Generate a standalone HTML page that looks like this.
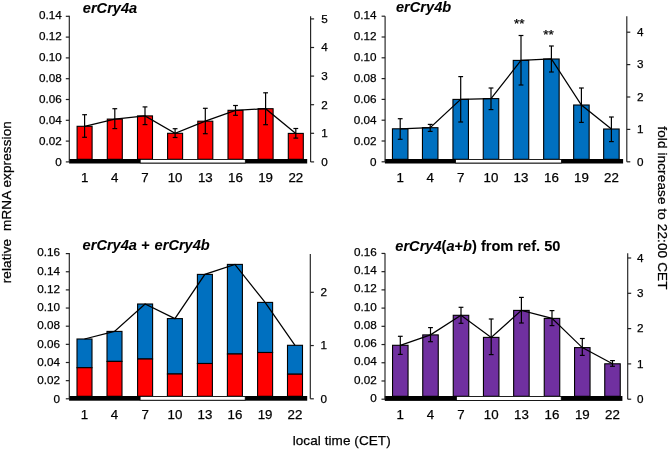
<!DOCTYPE html>
<html><head><meta charset="utf-8"><style>
html,body{margin:0;padding:0;background:#fff;width:668px;height:450px;overflow:hidden}
svg{display:block;will-change:transform}
text{font-family:"Liberation Sans", sans-serif;fill:#000;white-space:pre;stroke:#000;stroke-width:0.25px}
text[font-weight=bold]{stroke-width:0.08px}
</style></head><body>
<svg width="668" height="450" viewBox="0 0 668 450">
<rect width="668" height="450" fill="#fff"/>
<rect x="77.10" y="126.30" width="15" height="33.00" fill="#ff0000" stroke="#000" stroke-width="1.1"/>
<rect x="107.30" y="119.10" width="15" height="40.20" fill="#ff0000" stroke="#000" stroke-width="1.1"/>
<rect x="137.50" y="115.90" width="15" height="43.40" fill="#ff0000" stroke="#000" stroke-width="1.1"/>
<rect x="167.60" y="133.30" width="15" height="26.00" fill="#ff0000" stroke="#000" stroke-width="1.1"/>
<rect x="197.80" y="121.20" width="15" height="38.10" fill="#ff0000" stroke="#000" stroke-width="1.1"/>
<rect x="228.00" y="110.30" width="15" height="49.00" fill="#ff0000" stroke="#000" stroke-width="1.1"/>
<rect x="258.10" y="108.70" width="15" height="50.60" fill="#ff0000" stroke="#000" stroke-width="1.1"/>
<rect x="288.30" y="133.40" width="15" height="25.90" fill="#ff0000" stroke="#000" stroke-width="1.1"/>
<line x1="84.60" y1="114.70" x2="84.60" y2="137.30" stroke="#000" stroke-width="1.2"/>
<line x1="82.20" y1="114.70" x2="87.00" y2="114.70" stroke="#000" stroke-width="1.2"/>
<line x1="82.20" y1="137.30" x2="87.00" y2="137.30" stroke="#000" stroke-width="1.2"/>
<line x1="114.80" y1="108.70" x2="114.80" y2="128.60" stroke="#000" stroke-width="1.2"/>
<line x1="112.40" y1="108.70" x2="117.20" y2="108.70" stroke="#000" stroke-width="1.2"/>
<line x1="112.40" y1="128.60" x2="117.20" y2="128.60" stroke="#000" stroke-width="1.2"/>
<line x1="145.00" y1="106.90" x2="145.00" y2="124.60" stroke="#000" stroke-width="1.2"/>
<line x1="142.60" y1="106.90" x2="147.40" y2="106.90" stroke="#000" stroke-width="1.2"/>
<line x1="142.60" y1="124.60" x2="147.40" y2="124.60" stroke="#000" stroke-width="1.2"/>
<line x1="175.10" y1="128.70" x2="175.10" y2="137.50" stroke="#000" stroke-width="1.2"/>
<line x1="172.70" y1="128.70" x2="177.50" y2="128.70" stroke="#000" stroke-width="1.2"/>
<line x1="172.70" y1="137.50" x2="177.50" y2="137.50" stroke="#000" stroke-width="1.2"/>
<line x1="205.30" y1="108.30" x2="205.30" y2="133.70" stroke="#000" stroke-width="1.2"/>
<line x1="202.90" y1="108.30" x2="207.70" y2="108.30" stroke="#000" stroke-width="1.2"/>
<line x1="202.90" y1="133.70" x2="207.70" y2="133.70" stroke="#000" stroke-width="1.2"/>
<line x1="235.50" y1="105.50" x2="235.50" y2="115.30" stroke="#000" stroke-width="1.2"/>
<line x1="233.10" y1="105.50" x2="237.90" y2="105.50" stroke="#000" stroke-width="1.2"/>
<line x1="233.10" y1="115.30" x2="237.90" y2="115.30" stroke="#000" stroke-width="1.2"/>
<line x1="265.60" y1="92.80" x2="265.60" y2="124.70" stroke="#000" stroke-width="1.2"/>
<line x1="263.20" y1="92.80" x2="268.00" y2="92.80" stroke="#000" stroke-width="1.2"/>
<line x1="263.20" y1="124.70" x2="268.00" y2="124.70" stroke="#000" stroke-width="1.2"/>
<line x1="295.80" y1="128.50" x2="295.80" y2="138.10" stroke="#000" stroke-width="1.2"/>
<line x1="293.40" y1="128.50" x2="298.20" y2="128.50" stroke="#000" stroke-width="1.2"/>
<line x1="293.40" y1="138.10" x2="298.20" y2="138.10" stroke="#000" stroke-width="1.2"/>
<polyline points="84.60,126.30 114.80,119.10 145.00,115.90 175.10,133.30 205.30,121.20 235.50,110.30 265.60,108.70 295.80,133.40" fill="none" stroke="#000" stroke-width="1.25"/>
<rect x="69.10" y="159.00" width="238.10" height="4.50" fill="#000"/>
<rect x="140.20" y="159.40" width="105.10" height="3.60" fill="#fff" stroke="#000" stroke-width="0.8"/>
<line x1="69.30" y1="15.70" x2="69.30" y2="161.90" stroke="#222" stroke-width="1.15"/>
<line x1="65.80" y1="161.90" x2="69.30" y2="161.90" stroke="#222" stroke-width="1.2"/>
<text x="61.70" y="166.20" text-anchor="end" font-size="11.7">0</text>
<line x1="65.80" y1="141.10" x2="69.30" y2="141.10" stroke="#222" stroke-width="1.2"/>
<text x="61.70" y="145.19" text-anchor="end" font-size="11.7">0.02</text>
<line x1="65.80" y1="120.30" x2="69.30" y2="120.30" stroke="#222" stroke-width="1.2"/>
<text x="61.70" y="124.18" text-anchor="end" font-size="11.7">0.04</text>
<line x1="65.80" y1="99.50" x2="69.30" y2="99.50" stroke="#222" stroke-width="1.2"/>
<text x="61.70" y="103.17" text-anchor="end" font-size="11.7">0.06</text>
<line x1="65.80" y1="78.70" x2="69.30" y2="78.70" stroke="#222" stroke-width="1.2"/>
<text x="61.70" y="82.16" text-anchor="end" font-size="11.7">0.08</text>
<line x1="65.80" y1="57.90" x2="69.30" y2="57.90" stroke="#222" stroke-width="1.2"/>
<text x="61.70" y="61.15" text-anchor="end" font-size="11.7">0.10</text>
<line x1="65.80" y1="37.10" x2="69.30" y2="37.10" stroke="#222" stroke-width="1.2"/>
<text x="61.70" y="40.14" text-anchor="end" font-size="11.7">0.12</text>
<line x1="65.80" y1="16.30" x2="69.30" y2="16.30" stroke="#222" stroke-width="1.2"/>
<text x="61.70" y="19.13" text-anchor="end" font-size="11.7">0.14</text>
<line x1="310.60" y1="16.30" x2="310.60" y2="161.90" stroke="#222" stroke-width="1.15"/>
<line x1="310.60" y1="161.90" x2="314.10" y2="161.90" stroke="#222" stroke-width="1.2"/>
<text x="321.30" y="165.70" font-size="11.7">0</text>
<line x1="310.60" y1="133.30" x2="314.10" y2="133.30" stroke="#222" stroke-width="1.2"/>
<text x="321.30" y="137.10" font-size="11.7">1</text>
<line x1="310.60" y1="104.70" x2="314.10" y2="104.70" stroke="#222" stroke-width="1.2"/>
<text x="321.30" y="108.50" font-size="11.7">2</text>
<line x1="310.60" y1="76.10" x2="314.10" y2="76.10" stroke="#222" stroke-width="1.2"/>
<text x="321.30" y="79.90" font-size="11.7">3</text>
<line x1="310.60" y1="47.50" x2="314.10" y2="47.50" stroke="#222" stroke-width="1.2"/>
<text x="321.30" y="51.30" font-size="11.7">4</text>
<line x1="310.60" y1="18.90" x2="314.10" y2="18.90" stroke="#222" stroke-width="1.2"/>
<text x="321.30" y="22.70" font-size="11.7">5</text>
<text x="84.60" y="182.00" text-anchor="middle" font-size="13.3">1</text>
<text x="114.80" y="182.00" text-anchor="middle" font-size="13.3">4</text>
<text x="145.00" y="182.00" text-anchor="middle" font-size="13.3">7</text>
<text x="175.10" y="182.00" text-anchor="middle" font-size="13.3">10</text>
<text x="205.30" y="182.00" text-anchor="middle" font-size="13.3">13</text>
<text x="235.50" y="182.00" text-anchor="middle" font-size="13.3">16</text>
<text x="265.60" y="182.00" text-anchor="middle" font-size="13.3">19</text>
<text x="295.80" y="182.00" text-anchor="middle" font-size="13.3">22</text>
<text x="82.8" y="12.6" font-size="14.6" font-weight="bold" font-style="italic">erCry4a</text>
<rect x="392.45" y="128.80" width="15.5" height="30.50" fill="#0070c0" stroke="#000" stroke-width="1.1"/>
<rect x="422.45" y="127.70" width="15.5" height="31.60" fill="#0070c0" stroke="#000" stroke-width="1.1"/>
<rect x="452.95" y="99.40" width="15.5" height="59.90" fill="#0070c0" stroke="#000" stroke-width="1.1"/>
<rect x="483.25" y="98.60" width="15.5" height="60.70" fill="#0070c0" stroke="#000" stroke-width="1.1"/>
<rect x="513.25" y="60.40" width="15.5" height="98.90" fill="#0070c0" stroke="#000" stroke-width="1.1"/>
<rect x="543.65" y="59.00" width="15.5" height="100.30" fill="#0070c0" stroke="#000" stroke-width="1.1"/>
<rect x="573.65" y="105.00" width="15.5" height="54.30" fill="#0070c0" stroke="#000" stroke-width="1.1"/>
<rect x="603.65" y="129.00" width="15.5" height="30.30" fill="#0070c0" stroke="#000" stroke-width="1.1"/>
<line x1="400.20" y1="118.70" x2="400.20" y2="139.30" stroke="#000" stroke-width="1.2"/>
<line x1="397.80" y1="118.70" x2="402.60" y2="118.70" stroke="#000" stroke-width="1.2"/>
<line x1="397.80" y1="139.30" x2="402.60" y2="139.30" stroke="#000" stroke-width="1.2"/>
<line x1="430.20" y1="124.40" x2="430.20" y2="131.40" stroke="#000" stroke-width="1.2"/>
<line x1="427.80" y1="124.40" x2="432.60" y2="124.40" stroke="#000" stroke-width="1.2"/>
<line x1="427.80" y1="131.40" x2="432.60" y2="131.40" stroke="#000" stroke-width="1.2"/>
<line x1="460.70" y1="76.60" x2="460.70" y2="122.00" stroke="#000" stroke-width="1.2"/>
<line x1="458.30" y1="76.60" x2="463.10" y2="76.60" stroke="#000" stroke-width="1.2"/>
<line x1="458.30" y1="122.00" x2="463.10" y2="122.00" stroke="#000" stroke-width="1.2"/>
<line x1="491.00" y1="88.00" x2="491.00" y2="109.60" stroke="#000" stroke-width="1.2"/>
<line x1="488.60" y1="88.00" x2="493.40" y2="88.00" stroke="#000" stroke-width="1.2"/>
<line x1="488.60" y1="109.60" x2="493.40" y2="109.60" stroke="#000" stroke-width="1.2"/>
<line x1="521.00" y1="35.50" x2="521.00" y2="85.00" stroke="#000" stroke-width="1.2"/>
<line x1="518.60" y1="35.50" x2="523.40" y2="35.50" stroke="#000" stroke-width="1.2"/>
<line x1="518.60" y1="85.00" x2="523.40" y2="85.00" stroke="#000" stroke-width="1.2"/>
<line x1="551.40" y1="46.00" x2="551.40" y2="72.00" stroke="#000" stroke-width="1.2"/>
<line x1="549.00" y1="46.00" x2="553.80" y2="46.00" stroke="#000" stroke-width="1.2"/>
<line x1="549.00" y1="72.00" x2="553.80" y2="72.00" stroke="#000" stroke-width="1.2"/>
<line x1="581.40" y1="88.00" x2="581.40" y2="122.40" stroke="#000" stroke-width="1.2"/>
<line x1="579.00" y1="88.00" x2="583.80" y2="88.00" stroke="#000" stroke-width="1.2"/>
<line x1="579.00" y1="122.40" x2="583.80" y2="122.40" stroke="#000" stroke-width="1.2"/>
<line x1="611.40" y1="117.00" x2="611.40" y2="141.60" stroke="#000" stroke-width="1.2"/>
<line x1="609.00" y1="117.00" x2="613.80" y2="117.00" stroke="#000" stroke-width="1.2"/>
<line x1="609.00" y1="141.60" x2="613.80" y2="141.60" stroke="#000" stroke-width="1.2"/>
<polyline points="400.20,128.80 430.20,127.70 460.70,99.40 491.00,98.60 521.00,60.40 551.40,59.00 581.40,105.00 611.40,129.00" fill="none" stroke="#000" stroke-width="1.25"/>
<rect x="384.90" y="159.00" width="238.20" height="4.50" fill="#000"/>
<rect x="455.60" y="159.40" width="105.80" height="3.60" fill="#fff" stroke="#000" stroke-width="0.8"/>
<line x1="385.10" y1="16.30" x2="385.10" y2="161.80" stroke="#222" stroke-width="1.15"/>
<line x1="381.60" y1="161.80" x2="385.10" y2="161.80" stroke="#222" stroke-width="1.2"/>
<text x="376.60" y="166.40" text-anchor="end" font-size="11.7">0</text>
<line x1="381.60" y1="141.00" x2="385.10" y2="141.00" stroke="#222" stroke-width="1.2"/>
<text x="376.60" y="145.39" text-anchor="end" font-size="11.7">0.02</text>
<line x1="381.60" y1="120.20" x2="385.10" y2="120.20" stroke="#222" stroke-width="1.2"/>
<text x="376.60" y="124.38" text-anchor="end" font-size="11.7">0.04</text>
<line x1="381.60" y1="99.40" x2="385.10" y2="99.40" stroke="#222" stroke-width="1.2"/>
<text x="376.60" y="103.37" text-anchor="end" font-size="11.7">0.06</text>
<line x1="381.60" y1="78.60" x2="385.10" y2="78.60" stroke="#222" stroke-width="1.2"/>
<text x="376.60" y="82.36" text-anchor="end" font-size="11.7">0.08</text>
<line x1="381.60" y1="57.80" x2="385.10" y2="57.80" stroke="#222" stroke-width="1.2"/>
<text x="376.60" y="61.35" text-anchor="end" font-size="11.7">0.10</text>
<line x1="381.60" y1="37.00" x2="385.10" y2="37.00" stroke="#222" stroke-width="1.2"/>
<text x="376.60" y="40.34" text-anchor="end" font-size="11.7">0.12</text>
<line x1="381.60" y1="16.20" x2="385.10" y2="16.20" stroke="#222" stroke-width="1.2"/>
<text x="376.60" y="19.33" text-anchor="end" font-size="11.7">0.14</text>
<line x1="626.80" y1="16.30" x2="626.80" y2="161.80" stroke="#222" stroke-width="1.15"/>
<line x1="626.80" y1="161.80" x2="630.30" y2="161.80" stroke="#222" stroke-width="1.2"/>
<text x="636.90" y="165.60" font-size="11.7">0</text>
<line x1="626.80" y1="129.40" x2="630.30" y2="129.40" stroke="#222" stroke-width="1.2"/>
<text x="636.90" y="133.20" font-size="11.7">1</text>
<line x1="626.80" y1="97.00" x2="630.30" y2="97.00" stroke="#222" stroke-width="1.2"/>
<text x="636.90" y="100.80" font-size="11.7">2</text>
<line x1="626.80" y1="64.60" x2="630.30" y2="64.60" stroke="#222" stroke-width="1.2"/>
<text x="636.90" y="68.40" font-size="11.7">3</text>
<line x1="626.80" y1="32.20" x2="630.30" y2="32.20" stroke="#222" stroke-width="1.2"/>
<text x="636.90" y="36.00" font-size="11.7">4</text>
<text x="400.20" y="182.00" text-anchor="middle" font-size="13.3">1</text>
<text x="430.20" y="182.00" text-anchor="middle" font-size="13.3">4</text>
<text x="460.70" y="182.00" text-anchor="middle" font-size="13.3">7</text>
<text x="491.00" y="182.00" text-anchor="middle" font-size="13.3">10</text>
<text x="521.00" y="182.00" text-anchor="middle" font-size="13.3">13</text>
<text x="551.40" y="182.00" text-anchor="middle" font-size="13.3">16</text>
<text x="581.40" y="182.00" text-anchor="middle" font-size="13.3">19</text>
<text x="611.40" y="182.00" text-anchor="middle" font-size="13.3">22</text>
<text x="396" y="11.6" font-size="14.6" font-weight="bold" font-style="italic">erCry4b</text><text x="519.2" y="28.2" text-anchor="middle" font-size="13.5">**</text><text x="548.6" y="39.4" text-anchor="middle" font-size="13.5">**</text>
<rect x="77.00" y="339.00" width="15" height="28.70" fill="#0070c0" stroke="#000" stroke-width="1.1"/>
<rect x="77.00" y="367.70" width="15" height="28.60" fill="#ff0000" stroke="#000" stroke-width="1.1"/>
<rect x="107.00" y="331.40" width="15" height="30.00" fill="#0070c0" stroke="#000" stroke-width="1.1"/>
<rect x="107.00" y="361.40" width="15" height="34.90" fill="#ff0000" stroke="#000" stroke-width="1.1"/>
<rect x="137.60" y="304.00" width="15" height="55.00" fill="#0070c0" stroke="#000" stroke-width="1.1"/>
<rect x="137.60" y="359.00" width="15" height="37.30" fill="#ff0000" stroke="#000" stroke-width="1.1"/>
<rect x="167.40" y="318.60" width="15" height="55.40" fill="#0070c0" stroke="#000" stroke-width="1.1"/>
<rect x="167.40" y="374.00" width="15" height="22.30" fill="#ff0000" stroke="#000" stroke-width="1.1"/>
<rect x="197.40" y="274.40" width="15" height="89.10" fill="#0070c0" stroke="#000" stroke-width="1.1"/>
<rect x="197.40" y="363.50" width="15" height="32.80" fill="#ff0000" stroke="#000" stroke-width="1.1"/>
<rect x="227.40" y="264.40" width="15" height="89.60" fill="#0070c0" stroke="#000" stroke-width="1.1"/>
<rect x="227.40" y="354.00" width="15" height="42.30" fill="#ff0000" stroke="#000" stroke-width="1.1"/>
<rect x="257.60" y="302.40" width="15" height="50.10" fill="#0070c0" stroke="#000" stroke-width="1.1"/>
<rect x="257.60" y="352.50" width="15" height="43.80" fill="#ff0000" stroke="#000" stroke-width="1.1"/>
<rect x="287.50" y="345.30" width="15" height="28.90" fill="#0070c0" stroke="#000" stroke-width="1.1"/>
<rect x="287.50" y="374.20" width="15" height="22.10" fill="#ff0000" stroke="#000" stroke-width="1.1"/>
<polyline points="84.50,339.00 114.50,331.40 145.10,304.00 174.90,318.60 204.90,274.40 234.90,264.40 265.10,302.40 295.00,345.30" fill="none" stroke="#000" stroke-width="1.25"/>
<rect x="69.10" y="396.00" width="238.10" height="4.70" fill="#000"/>
<rect x="140.10" y="396.40" width="105.10" height="3.80" fill="#fff" stroke="#000" stroke-width="0.8"/>
<line x1="69.30" y1="253.10" x2="69.30" y2="398.80" stroke="#222" stroke-width="1.15"/>
<line x1="65.80" y1="398.80" x2="69.30" y2="398.80" stroke="#222" stroke-width="1.2"/>
<text x="60.00" y="402.50" text-anchor="end" font-size="11.7">0</text>
<line x1="65.80" y1="380.65" x2="69.30" y2="380.65" stroke="#222" stroke-width="1.2"/>
<text x="60.00" y="384.24" text-anchor="end" font-size="11.7">0.02</text>
<line x1="65.80" y1="362.50" x2="69.30" y2="362.50" stroke="#222" stroke-width="1.2"/>
<text x="60.00" y="365.98" text-anchor="end" font-size="11.7">0.04</text>
<line x1="65.80" y1="344.35" x2="69.30" y2="344.35" stroke="#222" stroke-width="1.2"/>
<text x="60.00" y="347.72" text-anchor="end" font-size="11.7">0.06</text>
<line x1="65.80" y1="326.20" x2="69.30" y2="326.20" stroke="#222" stroke-width="1.2"/>
<text x="60.00" y="329.46" text-anchor="end" font-size="11.7">0.08</text>
<line x1="65.80" y1="308.05" x2="69.30" y2="308.05" stroke="#222" stroke-width="1.2"/>
<text x="60.00" y="311.20" text-anchor="end" font-size="11.7">0.10</text>
<line x1="65.80" y1="289.90" x2="69.30" y2="289.90" stroke="#222" stroke-width="1.2"/>
<text x="60.00" y="292.94" text-anchor="end" font-size="11.7">0.12</text>
<line x1="65.80" y1="271.75" x2="69.30" y2="271.75" stroke="#222" stroke-width="1.2"/>
<text x="60.00" y="274.68" text-anchor="end" font-size="11.7">0.14</text>
<line x1="65.80" y1="253.60" x2="69.30" y2="253.60" stroke="#222" stroke-width="1.2"/>
<text x="60.00" y="256.42" text-anchor="end" font-size="11.7">0.16</text>
<line x1="310.30" y1="254.00" x2="310.30" y2="398.80" stroke="#222" stroke-width="1.15"/>
<line x1="310.30" y1="398.80" x2="313.80" y2="398.80" stroke="#222" stroke-width="1.2"/>
<text x="320.50" y="402.60" font-size="11.7">0</text>
<line x1="310.30" y1="345.55" x2="313.80" y2="345.55" stroke="#222" stroke-width="1.2"/>
<text x="320.50" y="349.35" font-size="11.7">1</text>
<line x1="310.30" y1="292.30" x2="313.80" y2="292.30" stroke="#222" stroke-width="1.2"/>
<text x="320.50" y="296.10" font-size="11.7">2</text>
<text x="84.50" y="419.10" text-anchor="middle" font-size="13.3">1</text>
<text x="114.50" y="419.10" text-anchor="middle" font-size="13.3">4</text>
<text x="145.10" y="419.10" text-anchor="middle" font-size="13.3">7</text>
<text x="174.90" y="419.10" text-anchor="middle" font-size="13.3">10</text>
<text x="204.90" y="419.10" text-anchor="middle" font-size="13.3">13</text>
<text x="234.90" y="419.10" text-anchor="middle" font-size="13.3">16</text>
<text x="265.10" y="419.10" text-anchor="middle" font-size="13.3">19</text>
<text x="295.00" y="419.10" text-anchor="middle" font-size="13.3">22</text>
<text x="82.6" y="250.4" font-size="14.6" font-weight="bold" font-style="italic">erCry4a + <tspan dx="1.0">erCry4b</tspan></text>
<rect x="392.55" y="345.30" width="15.5" height="51.00" fill="#7030a0" stroke="#000" stroke-width="1.1"/>
<rect x="422.75" y="334.90" width="15.5" height="61.40" fill="#7030a0" stroke="#000" stroke-width="1.1"/>
<rect x="453.25" y="315.30" width="15.5" height="81.00" fill="#7030a0" stroke="#000" stroke-width="1.1"/>
<rect x="483.45" y="337.40" width="15.5" height="58.90" fill="#7030a0" stroke="#000" stroke-width="1.1"/>
<rect x="513.65" y="310.40" width="15.5" height="85.90" fill="#7030a0" stroke="#000" stroke-width="1.1"/>
<rect x="544.25" y="318.40" width="15.5" height="77.90" fill="#7030a0" stroke="#000" stroke-width="1.1"/>
<rect x="574.55" y="347.60" width="15.5" height="48.70" fill="#7030a0" stroke="#000" stroke-width="1.1"/>
<rect x="604.75" y="363.80" width="15.5" height="32.50" fill="#7030a0" stroke="#000" stroke-width="1.1"/>
<line x1="400.30" y1="336.30" x2="400.30" y2="354.40" stroke="#000" stroke-width="1.2"/>
<line x1="397.90" y1="336.30" x2="402.70" y2="336.30" stroke="#000" stroke-width="1.2"/>
<line x1="397.90" y1="354.40" x2="402.70" y2="354.40" stroke="#000" stroke-width="1.2"/>
<line x1="430.50" y1="327.60" x2="430.50" y2="341.70" stroke="#000" stroke-width="1.2"/>
<line x1="428.10" y1="327.60" x2="432.90" y2="327.60" stroke="#000" stroke-width="1.2"/>
<line x1="428.10" y1="341.70" x2="432.90" y2="341.70" stroke="#000" stroke-width="1.2"/>
<line x1="461.00" y1="307.30" x2="461.00" y2="323.30" stroke="#000" stroke-width="1.2"/>
<line x1="458.60" y1="307.30" x2="463.40" y2="307.30" stroke="#000" stroke-width="1.2"/>
<line x1="458.60" y1="323.30" x2="463.40" y2="323.30" stroke="#000" stroke-width="1.2"/>
<line x1="491.20" y1="319.00" x2="491.20" y2="354.60" stroke="#000" stroke-width="1.2"/>
<line x1="488.80" y1="319.00" x2="493.60" y2="319.00" stroke="#000" stroke-width="1.2"/>
<line x1="488.80" y1="354.60" x2="493.60" y2="354.60" stroke="#000" stroke-width="1.2"/>
<line x1="521.40" y1="297.40" x2="521.40" y2="323.00" stroke="#000" stroke-width="1.2"/>
<line x1="519.00" y1="297.40" x2="523.80" y2="297.40" stroke="#000" stroke-width="1.2"/>
<line x1="519.00" y1="323.00" x2="523.80" y2="323.00" stroke="#000" stroke-width="1.2"/>
<line x1="552.00" y1="310.60" x2="552.00" y2="325.60" stroke="#000" stroke-width="1.2"/>
<line x1="549.60" y1="310.60" x2="554.40" y2="310.60" stroke="#000" stroke-width="1.2"/>
<line x1="549.60" y1="325.60" x2="554.40" y2="325.60" stroke="#000" stroke-width="1.2"/>
<line x1="582.30" y1="338.50" x2="582.30" y2="355.40" stroke="#000" stroke-width="1.2"/>
<line x1="579.90" y1="338.50" x2="584.70" y2="338.50" stroke="#000" stroke-width="1.2"/>
<line x1="579.90" y1="355.40" x2="584.70" y2="355.40" stroke="#000" stroke-width="1.2"/>
<line x1="612.50" y1="360.60" x2="612.50" y2="366.30" stroke="#000" stroke-width="1.2"/>
<line x1="610.10" y1="360.60" x2="614.90" y2="360.60" stroke="#000" stroke-width="1.2"/>
<line x1="610.10" y1="366.30" x2="614.90" y2="366.30" stroke="#000" stroke-width="1.2"/>
<polyline points="400.30,345.30 430.50,334.90 461.00,315.30 491.20,337.40 521.40,310.40 552.00,318.40 582.30,347.60 612.50,363.80" fill="none" stroke="#000" stroke-width="1.25"/>
<rect x="384.80" y="396.00" width="237.60" height="4.90" fill="#000"/>
<rect x="456.40" y="396.40" width="104.80" height="4.00" fill="#fff" stroke="#000" stroke-width="0.8"/>
<line x1="385.00" y1="253.20" x2="385.00" y2="399.20" stroke="#222" stroke-width="1.15"/>
<line x1="381.50" y1="399.20" x2="385.00" y2="399.20" stroke="#222" stroke-width="1.2"/>
<text x="376.70" y="401.80" text-anchor="end" font-size="11.7">0</text>
<line x1="381.50" y1="380.98" x2="385.00" y2="380.98" stroke="#222" stroke-width="1.2"/>
<text x="376.70" y="383.56" text-anchor="end" font-size="11.7">0.02</text>
<line x1="381.50" y1="362.76" x2="385.00" y2="362.76" stroke="#222" stroke-width="1.2"/>
<text x="376.70" y="365.32" text-anchor="end" font-size="11.7">0.04</text>
<line x1="381.50" y1="344.54" x2="385.00" y2="344.54" stroke="#222" stroke-width="1.2"/>
<text x="376.70" y="347.08" text-anchor="end" font-size="11.7">0.06</text>
<line x1="381.50" y1="326.32" x2="385.00" y2="326.32" stroke="#222" stroke-width="1.2"/>
<text x="376.70" y="328.84" text-anchor="end" font-size="11.7">0.08</text>
<line x1="381.50" y1="308.10" x2="385.00" y2="308.10" stroke="#222" stroke-width="1.2"/>
<text x="376.70" y="310.60" text-anchor="end" font-size="11.7">0.10</text>
<line x1="381.50" y1="289.88" x2="385.00" y2="289.88" stroke="#222" stroke-width="1.2"/>
<text x="376.70" y="292.36" text-anchor="end" font-size="11.7">0.12</text>
<line x1="381.50" y1="271.66" x2="385.00" y2="271.66" stroke="#222" stroke-width="1.2"/>
<text x="376.70" y="274.12" text-anchor="end" font-size="11.7">0.14</text>
<line x1="381.50" y1="253.44" x2="385.00" y2="253.44" stroke="#222" stroke-width="1.2"/>
<text x="376.70" y="255.88" text-anchor="end" font-size="11.7">0.16</text>
<line x1="627.70" y1="253.30" x2="627.70" y2="399.20" stroke="#222" stroke-width="1.15"/>
<line x1="627.70" y1="399.20" x2="631.20" y2="399.20" stroke="#222" stroke-width="1.2"/>
<text x="637.00" y="403.00" font-size="11.7">0</text>
<line x1="627.70" y1="363.90" x2="631.20" y2="363.90" stroke="#222" stroke-width="1.2"/>
<text x="637.00" y="367.70" font-size="11.7">1</text>
<line x1="627.70" y1="328.60" x2="631.20" y2="328.60" stroke="#222" stroke-width="1.2"/>
<text x="637.00" y="332.40" font-size="11.7">2</text>
<line x1="627.70" y1="293.30" x2="631.20" y2="293.30" stroke="#222" stroke-width="1.2"/>
<text x="637.00" y="297.10" font-size="11.7">3</text>
<line x1="627.70" y1="258.00" x2="631.20" y2="258.00" stroke="#222" stroke-width="1.2"/>
<text x="637.00" y="261.80" font-size="11.7">4</text>
<text x="400.30" y="418.80" text-anchor="middle" font-size="13.3">1</text>
<text x="430.50" y="418.80" text-anchor="middle" font-size="13.3">4</text>
<text x="461.00" y="418.80" text-anchor="middle" font-size="13.3">7</text>
<text x="491.20" y="418.80" text-anchor="middle" font-size="13.3">10</text>
<text x="521.40" y="418.80" text-anchor="middle" font-size="13.3">13</text>
<text x="552.00" y="418.80" text-anchor="middle" font-size="13.3">16</text>
<text x="582.30" y="418.80" text-anchor="middle" font-size="13.3">19</text>
<text x="612.50" y="418.80" text-anchor="middle" font-size="13.3">22</text>
<text x="395.3" y="250.9" font-size="14.6" font-weight="bold"><tspan font-style="italic">erCry4</tspan>(<tspan font-style="italic">a</tspan>+<tspan font-style="italic">b</tspan>) from ref. 50</text>
<text transform="translate(10.8,283.3) rotate(-90)" font-size="13.5" letter-spacing="0.13">relative  mRNA expression</text>
<text transform="translate(657.7,126.3) rotate(90)" font-size="13.5" letter-spacing="0.13">fold increase to 22:00 CET</text>
<text x="292.7" y="445.0" font-size="13.5" letter-spacing="0.08">local time (CET)</text>
</svg></body></html>
